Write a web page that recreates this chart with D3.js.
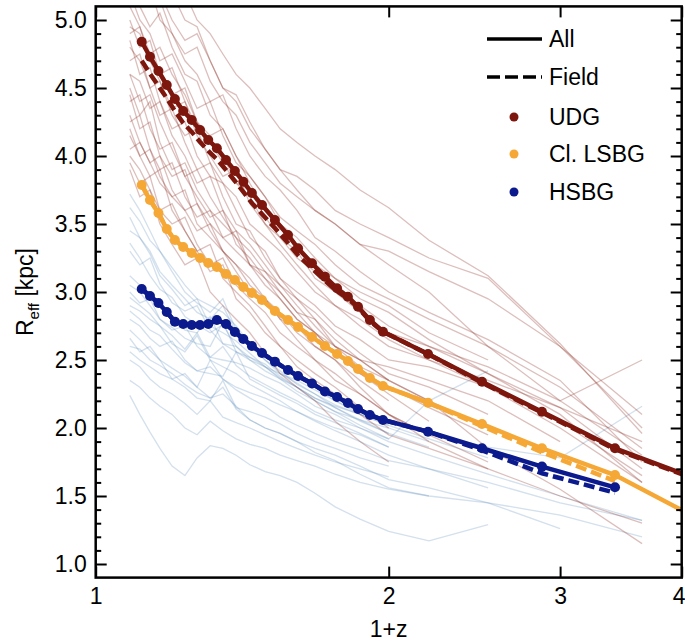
<!DOCTYPE html>
<html><head><meta charset="utf-8">
<script src="https://cdn.jsdelivr.net/npm/d3@7/dist/d3.min.js"></script>
<style>body{margin:0;background:#fff}svg text{font-family:"Liberation Sans",Arial,Helvetica,sans-serif}</style>
</head><body><svg id="c" width="685" height="643"></svg>
<script>
// ---- data ----
const mainX = [1.115,1.137,1.160,1.183,1.206,1.230,1.255,1.280,1.305,1.332,1.361,1.390,1.418,1.447,1.482,1.528,1.576,1.614,1.668,1.720,1.770,1.816,1.860,1.913,1.973,2.195,2.494,2.874,3.416,4.0];
const udgAll   = [4.840,4.730,4.625,4.522,4.419,4.331,4.265,4.191,4.118,4.057,3.971,3.890,3.811,3.728,3.640,3.529,3.419,3.321,3.211,3.113,3.027,2.965,2.892,2.794,2.708,2.544,2.340,2.120,1.851,1.667];
const udgField = [4.700,4.605,4.515,4.426,4.331,4.243,4.177,4.103,4.037,3.976,3.897,3.816,3.737,3.654,3.574,3.470,3.360,3.270,3.174,3.084,3.005,2.950,2.885,2.787,2.708,2.544,2.333,2.113,1.844,1.660];
const lsbgAll   = [3.787,3.676,3.581,3.463,3.382,3.331,3.287,3.250,3.213,3.184,3.132,3.088,3.037,2.993,2.941,2.860,2.794,2.743,2.669,2.603,2.544,2.493,2.434,2.368,2.309,2.186,2.029,1.851,1.654,1.397];
const lsbgField = [3.787,3.676,3.581,3.463,3.382,3.331,3.287,3.250,3.213,3.184,3.132,3.088,3.037,2.993,2.941,2.860,2.794,2.743,2.669,2.603,2.544,2.493,2.434,2.368,2.309,2.186,2.014,1.822,1.610];
const hsbgAll   = [3.022,2.971,2.919,2.853,2.782,2.765,2.757,2.757,2.765,2.794,2.765,2.706,2.654,2.603,2.551,2.488,2.426,2.382,2.327,2.268,2.228,2.184,2.140,2.096,2.059,1.973,1.851,1.716,1.564];
const hsbgField = [3.022,2.971,2.919,2.853,2.782,2.765,2.757,2.757,2.765,2.794,2.765,2.706,2.654,2.603,2.551,2.488,2.426,2.382,2.327,2.268,2.228,2.184,2.140,2.096,2.059,1.973,1.836,1.667,1.524];

const bgX = [1.084,1.110,1.137,1.164,1.198,1.235,1.271,1.311,1.351,1.394,1.440,1.493,1.547,1.610,1.680,1.762,1.869,2.0,2.2,2.53,3.0,3.642];
const udgTracks = [
 [5.6,5.5,5.3,5.2,5.0,4.85,4.9,4.7,4.5,4.4,4.2,4.05,3.9,3.85,3.75,3.6,3.5,3.4,3.25,3.1,2.6,2.0],
 [5.3,5.1,4.95,5.05,4.8,4.6,4.55,4.3,4.2,4.0,3.85,3.7,3.55,3.45,3.35,3.2,3.05,2.95,2.8,2.6,2.3,1.85],
 [4.95,4.9,4.7,4.6,4.65,4.4,4.2,4.1,4.0,3.8,3.7,3.5,3.4,3.3,3.1,3.0,2.85,2.7,2.6,2.4,2.15,1.7],
 [4.85,4.6,4.65,4.4,4.2,4.25,4.0,3.85,3.8,3.6,3.4,3.3,3.1,3.0,2.9,2.75,2.65,2.5,2.45,2.3,2.0,1.6],
 [4.7,4.75,4.5,4.3,4.35,4.1,3.9,3.95,3.7,3.5,3.45,3.25,3.1,2.95,2.85,2.7,2.55,2.4,2.3,2.1],
 [4.5,4.3,4.4,4.1,3.9,3.95,3.75,3.6,3.5,3.4,3.2,3.15,3.0,2.85,2.8,2.6,2.5,2.35,2.2,1.85,1.55,1.15],
 [4.25,4.3,4.05,3.9,3.95,3.7,3.55,3.6,3.4,3.3,3.2,3.05,2.95,2.8,2.7,2.55,2.4,2.3,2.15,1.95],
 [4.05,4.1,3.95,3.8,3.7,3.75,3.5,3.4,3.3,3.2,3.05,2.95,2.85,2.7,2.6,2.5,2.35,2.2],
 [6.0,5.9,5.7,5.5,5.35,5.2,5.0,4.9,4.75,4.6,4.5,4.35,4.2,4.1,4.0,3.9,3.75,3.62,3.38,3.12,2.62,1.96],
 [5.4,5.2,5.25,5.0,4.9,4.75,4.8,4.55,4.4,4.3,4.1,3.95,3.8,3.7,3.6,3.5,3.35,3.2,3.0,2.6,2.2,2.5],
 [4.6,4.55,4.35,4.4,4.15,4.0,3.8,3.85,3.6,3.45,3.35,3.2,3.05,2.95,2.8,2.65,2.5,2.45,2.35,2.2,1.9],
 [4.4,4.45,4.2,4.05,4.1,3.85,3.7,3.55,3.6,3.35,3.25,3.1,3.0,2.85,2.7,2.55,2.4,2.25,2.05],
 [5.0,4.8,4.85,4.6,4.45,4.5,4.25,4.1,3.95,3.8,3.75,3.55,3.4,3.25,3.15,3.0,2.9,2.75,2.6,2.45,2.2,1.8],
 [4.15,4.0,4.05,3.85,3.7,3.6,3.65,3.45,3.3,3.2,3.1,2.95,2.8,2.75,2.6,2.5,2.3,2.1,1.95,1.75],
 [5.8,5.6,5.4,5.45,5.2,5.0,4.95,4.7,4.5,4.45,4.25,4.05,3.9,3.75,3.6,3.5,3.35,3.3,3.15,2.95,2.6,2.1],
 [3.95,3.8,3.85,3.6,3.5,3.55,3.35,3.2,3.25,3.05,2.95,2.85,2.7,2.6,2.5,2.35,2.25,2.1,1.95],
 [4.8,4.7,4.5,4.55,4.3,4.15,4.2,3.95,3.8,3.7,3.5,3.4,3.3,3.15,3.0,2.9,2.8,2.65,2.5,2.3,2.05,1.65],
 [5.2,5.0,4.9,4.7,4.75,4.55,4.35,4.4,4.15,3.95,3.85,3.7,3.5,3.35,3.2,3.1,3.0,2.9,2.7,2.5],
 [4.45,4.2,4.25,4.0,3.85,3.9,3.65,3.5,3.4,3.45,3.2,3.1,2.95,2.8,2.7,2.6,2.45,2.35],
 [4.9,4.95,4.7,4.55,4.35,4.4,4.15,4.0,3.85,3.9,3.65,3.5,3.35,3.2,3.05,2.9,2.75,2.6,2.5,2.35,2.15,1.9],
 [5.5,5.3,5.1,5.15,4.9,4.7,4.6,4.4,4.45,4.2,4.0,3.85,3.75,3.6,3.4,3.3,3.15,3.0,2.85,2.65,2.35,1.75],
 [4.3,4.1,3.95,4.0,3.75,3.6,3.45,3.5,3.3,3.15,3.0,2.95,2.8,2.65,2.5,2.4,2.25,2.1,1.9,1.7],
 [4.6,4.4,4.45,4.25,4.05,3.85,3.9,3.7,3.55,3.4,3.3,3.15,3.05,2.9,2.75,2.6,2.5,2.35,2.2,2.0],
 [5.1,4.95,4.75,4.8,4.6,4.45,4.25,4.15,4.2,4.0,3.8,3.6,3.5,3.4,3.25,3.1,2.95,2.85,2.65,2.4,2.1,1.6],
 [4.0,3.9,3.75,3.6,3.65,3.45,3.3,3.35,3.1,3.0,2.9,2.75,2.6,2.5,2.4,2.3,2.15,2.0],
 [3.9,3.7,3.75,3.5,3.35,3.2,3.25,3.0,2.9,2.8,2.7,2.55,2.4,2.3,2.2,2.05,1.9,1.75],
 [4.2,4.0,3.85,3.9,3.6,3.45,3.3,3.15,3.2,2.95,2.85,2.7,2.6,2.45,2.35,2.25,2.1,1.95,1.85,1.7,1.5,1.3]
];
const hsbgTracks = [
 [3.72,3.6,3.45,3.3,3.18,3.05,2.95,2.9,2.85,2.75,2.62,2.55,2.47,2.4,2.3,2.2,2.1,2.02],
 [3.62,3.52,3.38,3.3,3.15,3.0,2.92,2.85,2.95,2.72,2.62,2.5,2.42,2.32,2.25,2.15,2.05,1.96,1.86],
 [3.45,3.4,3.28,3.12,3.02,2.9,2.95,2.75,2.7,2.64,2.55,2.45,2.37,2.3,2.2,2.12,2.02,1.92],
 [3.12,3.05,2.97,2.9,2.82,2.72,2.7,2.82,2.62,2.6,2.5,2.45,2.4,2.33,2.25,2.17,2.1,2.02,1.92,1.78],
 [3.05,3.0,2.9,2.8,2.74,2.66,2.62,2.6,2.78,2.56,2.52,2.47,2.38,2.3,2.22,2.15,2.06,1.96],
 [2.96,2.9,2.84,2.75,2.68,2.58,2.7,2.52,2.5,2.48,2.44,2.38,2.33,2.25,2.16,2.1,2.0,1.9,1.8,1.66,1.5,1.32],
 [2.86,2.8,2.72,2.68,2.58,2.48,2.42,2.4,2.38,2.56,2.36,2.3,2.24,2.18,2.1,2.04,1.96,1.86],
 [2.72,2.65,2.57,2.5,2.44,2.38,2.3,2.5,2.36,2.3,2.26,2.22,2.17,2.12,2.05,1.98,1.9,1.8,1.7,1.56],
 [2.66,2.56,2.6,2.5,2.36,2.3,2.22,2.2,2.35,2.15,2.12,2.08,2.03,1.96,1.9,1.85,1.78,1.72],
 [2.5,2.45,2.36,2.3,2.25,2.18,2.1,2.2,2.08,2.04,2.0,1.95,1.9,1.85,1.8,1.75,1.7,1.64],
 [2.24,2.1,1.97,1.85,1.72,1.65,1.78,1.87,1.85,1.8,1.73,1.68,1.65,1.6,1.52,1.42,1.33,1.24,1.17,1.29],
 [3.3,3.2,3.25,3.06,2.92,2.86,2.9,2.72,2.62,2.56,2.5,2.42,2.36,2.3,2.22,2.16,2.1,2.04,1.96,1.86,1.78,2.16],
 [2.8,2.75,2.66,2.6,2.64,2.5,2.42,2.45,2.36,2.28,2.22,2.16,2.08,2.02,1.96,1.9,1.84,1.76,1.7,1.6,1.45,1.32],
 [3.0,2.92,2.95,2.8,2.72,2.75,2.6,2.52,2.6,2.46,2.38,2.32,2.26,2.2,2.12,2.06,2.0,1.92,2.2,2.42],
 [2.6,2.58,2.5,2.46,2.4,2.32,2.26,2.22,2.3,2.14,2.06,2.0,1.96,1.9,1.85,1.8,1.72,1.62,1.56,1.45,1.26],
 [3.36,3.25,3.12,3.02,2.96,2.82,2.76,2.7,2.76,2.6,2.52,2.45,2.36,2.27,2.2,2.12,2.06,2.0,1.9],
 [2.9,2.86,2.8,2.75,2.62,2.56,2.68,2.5,2.45,2.4,2.32,2.26,2.2,2.12,2.06,2.0,1.95,1.86],
 [2.56,2.5,2.45,2.4,2.36,2.4,2.3,2.22,2.25,2.16,2.06,2.0,1.96,1.9,1.82,1.76,1.66,1.56,1.5,1.45,1.36,1.2],
 [3.55,3.4,3.3,3.15,3.05,2.95,2.85,2.8,2.9,2.7,2.6,2.5,2.4,2.35,2.28,2.2,2.12,2.05],
 [2.35,2.3,2.22,2.16,2.1,2.0,1.95,2.05,1.98,1.92,1.88,1.85,1.8,1.76,1.72,1.66,1.6,1.55,1.5]
];
const xTicks = [1,2,3,4];
const yMajor = [1.0,1.5,2.0,2.5,3.0,3.5,4.0,4.5,5.0];
const yMinor = d3.range(10,51).map(v=>v/10).filter(v=>Math.round(v*10)%5!==0);
const seriesNames = ["UDG","Cl. LSBG","HSBG"];
const seriesColors = ["#7d160d","#f5a835","#0b1a8c"];
const styleNames = ["All","Field"];

// ---- layout ----
const L=95.7, R=681.7, T=6.4, B=577.6;
const svg = d3.select("#c");
const x = d3.scaleLog().domain([1,4]).range([L,R]);
const y = d3.scaleLinear().domain([0.9,5.1]).range([B,T]);

svg.append("defs").append("clipPath").attr("id","clip")
  .append("rect").attr("x",L).attr("y",T).attr("width",R-L).attr("height",B-T);
const plot = svg.append("g").attr("clip-path","url(#clip)");

const bgLine = d3.line().defined(d=>d!=null).x((d,i)=>x(bgX[i])).y(d=>y(d));
plot.append("g").selectAll("path").data(hsbgTracks).join("path")
  .attr("d",bgLine).attr("fill","none").attr("stroke","#4f83b8").attr("stroke-opacity",0.25).attr("stroke-width",1.3);
plot.append("g").selectAll("path").data(udgTracks).join("path")
  .attr("d",bgLine).attr("fill","none").attr("stroke","#8c2a22").attr("stroke-opacity",0.3).attr("stroke-width",1.3);

const mLine = d3.line().x((d,i)=>x(mainX[i])).y(d=>y(d));
const mains = [[udgAll,udgField],[lsbgAll,lsbgField],[hsbgAll,hsbgField]];
mains.forEach(([all,field],k)=>{
  const c = seriesColors[k];
  plot.append("path").attr("d",mLine(field)).attr("fill","none").attr("stroke",c)
    .attr("stroke-width",4.5).attr("stroke-dasharray","11,5");
  plot.append("path").attr("d",mLine(all)).attr("fill","none").attr("stroke",c).attr("stroke-width",4.5);
  plot.append("g").selectAll("circle").data(all.map((v,i)=>[mainX[i],v]).filter(d=>d[0]<3.9)).join("circle")
    .attr("cx",d=>x(d[0])).attr("cy",d=>y(d[1])).attr("r",5).attr("fill",c);
});

// ---- axes ----
function styleAxis(g){ g.select(".domain").remove(); g.selectAll("line").attr("stroke","#000").attr("stroke-width",2);
  g.selectAll("text").attr("fill","#000").style("font-size","23px"); }
svg.append("g").attr("transform",`translate(${L},0)`).call(d3.axisLeft(y).tickValues(yMajor).tickFormat(d3.format(".1f")).tickSize(-11).tickPadding(9)).call(styleAxis);
svg.append("g").attr("transform",`translate(${L},0)`).call(d3.axisLeft(y).tickValues(yMinor).tickFormat("").tickSize(-5.5)).call(styleAxis);
svg.append("g").attr("transform",`translate(${R},0)`).call(d3.axisRight(y).tickValues(yMajor).tickFormat("").tickSize(-11)).call(styleAxis);
svg.append("g").attr("transform",`translate(${R},0)`).call(d3.axisRight(y).tickValues(yMinor).tickFormat("").tickSize(-5.5)).call(styleAxis);
const xa = svg.append("g").attr("transform",`translate(0,${B})`).call(d3.axisBottom(x).tickValues(xTicks).tickFormat(d3.format("d")).tickSize(-11).tickPadding(10)).call(styleAxis);
xa.selectAll(".tick text").filter(d=>d===4).attr("dx",-3);
svg.append("g").attr("transform",`translate(0,${T})`).call(d3.axisTop(x).tickValues(xTicks).tickFormat("").tickSize(-11)).call(styleAxis);
svg.append("rect").attr("x",L).attr("y",T).attr("width",R-L).attr("height",B-T).attr("fill","none").attr("stroke","#000").attr("stroke-width",2.5);

// axis labels
svg.append("text").attr("x",(L+R)/2).attr("y",637).attr("text-anchor","middle").style("font-size","23px").text("1+z");
const yl = svg.append("text").attr("transform",`translate(33,${(T+B)/2}) rotate(-90)`).attr("text-anchor","middle").style("font-size","23px");
yl.append("tspan").text("R");
yl.append("tspan").attr("dy",6).style("font-size","15px").text("eff");
yl.append("tspan").attr("dy",-6).text(" [kpc]");

// ---- legend ----
const lg = svg.append("g");
const lx0=487, lx1=542, tx=549, rows=[39,77,117,154,192];
styleNames.forEach((s,i)=>{
  lg.append("line").attr("x1",lx0).attr("x2",lx1).attr("y1",rows[i]).attr("y2",rows[i])
    .attr("stroke","#000").attr("stroke-width",3.5).attr("stroke-dasharray",i?"13,5":null);
  lg.append("text").attr("x",tx).attr("y",rows[i]).attr("dy","0.36em").style("font-size","23px").text(s);
});
seriesNames.forEach((s,i)=>{
  lg.append("circle").attr("cx",514).attr("cy",rows[i+2]).attr("r",4.5).attr("fill",seriesColors[i]);
  lg.append("text").attr("x",tx).attr("y",rows[i+2]).attr("dy","0.36em").style("font-size","23px").text(s);
});
</script></body></html>
